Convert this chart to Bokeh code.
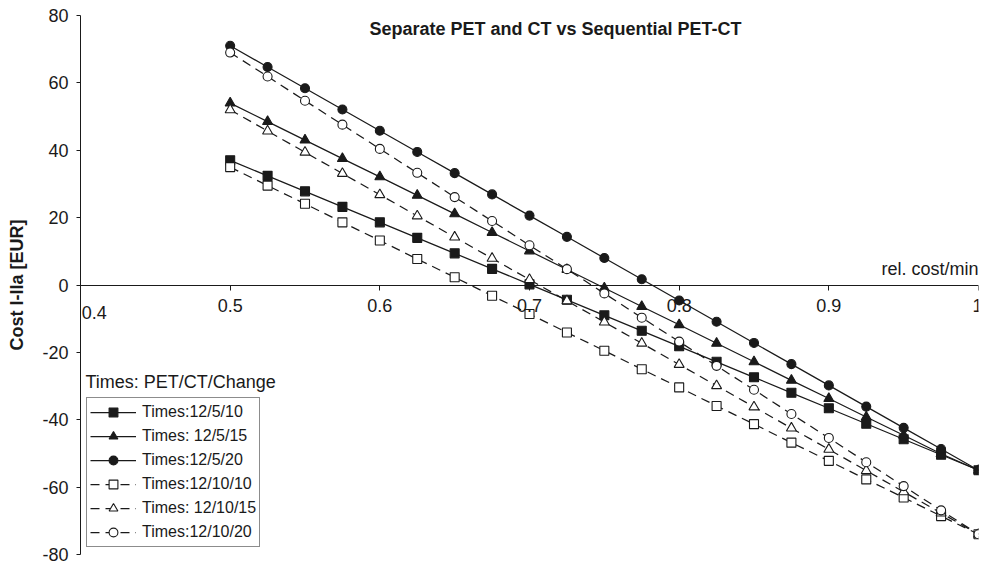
from bokeh.plotting import figure
from bokeh.models import Range1d, FixedTicker, CustomJSTickFormatter, Label, Legend, LegendItem
from bokeh.embed import file_html
from bokeh.resources import INLINE

# ---- data ----
rel_cost = [0.5, 0.525, 0.55, 0.575, 0.6, 0.625, 0.65, 0.675, 0.7, 0.725, 0.75,
            0.775, 0.8, 0.825, 0.85, 0.875, 0.9, 0.925, 0.95, 0.975, 1.0]

t_12_5_10 = [37, 32.4, 27.8, 23.2, 18.6, 14.0, 9.4, 4.8, 0.2, -4.4, -9.0,
             -13.6, -18.2, -22.8, -27.4, -32.0, -36.6, -41.2, -45.8, -50.4, -55]
t_12_5_15 = [54, 48.5, 43.0, 37.5, 32.1, 26.6, 21.1, 15.6, 10.1, 4.6, -0.9,
             -6.4, -11.8, -17.3, -22.8, -28.3, -33.7, -39.2, -44.6, -50.1, -55]
t_12_5_20 = [71, 64.7, 58.4, 52.1, 45.8, 39.5, 33.2, 26.9, 20.6, 14.3, 8.0,
             1.7, -4.6, -10.9, -17.2, -23.5, -29.8, -36.1, -42.4, -48.7, -55]
t_12_10_10 = [35, 29.5, 24.1, 18.6, 13.2, 7.7, 2.3, -3.2, -8.6, -14.1, -19.5,
              -25.0, -30.4, -35.9, -41.3, -46.8, -52.2, -57.7, -63.1, -68.6, -74]
t_12_10_15 = [52, 45.7, 39.4, 33.1, 26.8, 20.5, 14.2, 7.9, 1.6, -4.7, -11.0,
              -17.3, -23.6, -29.9, -36.2, -42.5, -48.8, -55.1, -61.4, -67.7, -74]
t_12_10_20 = [69, 61.9, 54.7, 47.6, 40.4, 33.3, 26.1, 19.0, 11.8, 4.7, -2.5,
              -9.7, -16.8, -24.0, -31.1, -38.3, -45.4, -52.6, -59.7, -66.9, -74]

series_names = ["Times:12/5/10", "Times: 12/5/15", "Times:12/5/20",
                "Times:12/10/10", "Times: 12/10/15", "Times:12/10/20"]
series_values = [t_12_5_10, t_12_5_15, t_12_5_20, t_12_10_10, t_12_10_15, t_12_10_20]
series_markers = ["square", "triangle", "circle", "square", "triangle", "circle"]
series_dashed = [False, False, False, True, True, True]

x_ticks = [0.4, 0.5, 0.6, 0.7, 0.8, 0.9, 1.0]
y_ticks = [-80, -60, -40, -20, 0, 20, 40, 60, 80]
x_first_tick_label = "0.4"

title_text = "Separate PET and CT vs Sequential PET-CT"
x_label = "rel. cost/min"
y_label = "Cost I-IIa [EUR]"
legend_title = "Times:  PET/CT/Change"

FONT = "Liberation Sans"
INK = "#1a1a1a"

p = figure(width=982, height=564, output_backend="svg", toolbar_location=None,
           x_range=Range1d(0.4, 1.0), y_range=Range1d(-80, 80),
           min_border_left=80, min_border_right=4, min_border_top=15, min_border_bottom=10)
p.outline_line_color = None
p.grid.visible = False

p.xaxis.fixed_location = 0
p.xaxis.ticker = FixedTicker(ticks=x_ticks)
# the first label sits over the y axis and would be clipped by the frame; it is drawn as a Label below
p.xaxis.formatter = CustomJSTickFormatter(
    code="if (tick < 0.45) { return ''; } return tick.toFixed(1).replace(/\\.0$/, '');")
p.yaxis.ticker = FixedTicker(ticks=y_ticks)
p.yaxis.formatter = CustomJSTickFormatter(code="return tick.toFixed(0);")
for ax in (p.xaxis, p.yaxis):
    ax.axis_line_color = INK
    ax.major_tick_line_color = INK
    ax.minor_tick_line_color = None
    ax.major_tick_in = 0
    ax.major_tick_out = 5
    ax.major_label_text_font = FONT
    ax.major_label_text_font_size = "18px"
    ax.major_label_text_color = INK
p.yaxis.major_tick_out = 4
p.xaxis.major_label_standoff = 9
p.yaxis.major_label_standoff = 8
p.yaxis.axis_label = y_label
p.yaxis.axis_label_text_font = FONT
p.yaxis.axis_label_text_font_size = "18px"
p.yaxis.axis_label_text_font_style = "bold"
p.yaxis.axis_label_text_color = INK
p.yaxis.axis_label_standoff = 12

items = []
for name, vals, mk, dashed in zip(series_names, series_values, series_markers, series_dashed):
    r_line = p.line(rel_cost, vals, line_color=INK, line_width=1.25,
                    line_dash="9 6" if dashed else "solid")
    r_pts = p.scatter(rel_cost, vals, marker=mk, size=10 if mk == "triangle" else 9,
                      line_color=INK, line_width=1.1,
                      fill_color="white" if dashed else INK)
    items.append(LegendItem(label=name, renderers=[r_line, r_pts]))

legend = Legend(items=items, location=(6, 7))
legend.label_text_font = FONT
legend.label_text_font_size = "16px"
legend.label_text_color = INK
legend.glyph_width = 46
legend.glyph_height = 22
legend.label_height = 22
legend.spacing = 2
legend.padding = 3
legend.margin = 0
legend.label_standoff = 6
legend.border_line_color = INK
legend.border_line_width = 1
legend.background_fill_color = "white"
legend.background_fill_alpha = 1.0
p.add_layout(legend)

p.add_layout(Label(x=x_ticks[0] + 0.0008, y=-8.2, text=x_first_tick_label, text_font=FONT,
                   text_font_size="18px", text_color=INK, text_align="left",
                   text_baseline="middle"))
p.add_layout(Label(x=0.7174, y=76.1, text=title_text, text_font=FONT,
                   text_font_size="18px", text_font_style="bold", text_color=INK,
                   text_align="center", text_baseline="middle"))
p.add_layout(Label(x=1.0, y=1.8, text=x_label, text_font=FONT, text_font_size="18px",
                   text_color=INK, text_align="right", text_baseline="bottom"))
p.add_layout(Label(x=0.4033, y=-28.8, text=legend_title, text_font=FONT,
                   text_font_size="18px", text_color=INK, text_align="left",
                   text_baseline="middle"))

open("out.html", "w").write(file_html(p, INLINE))
